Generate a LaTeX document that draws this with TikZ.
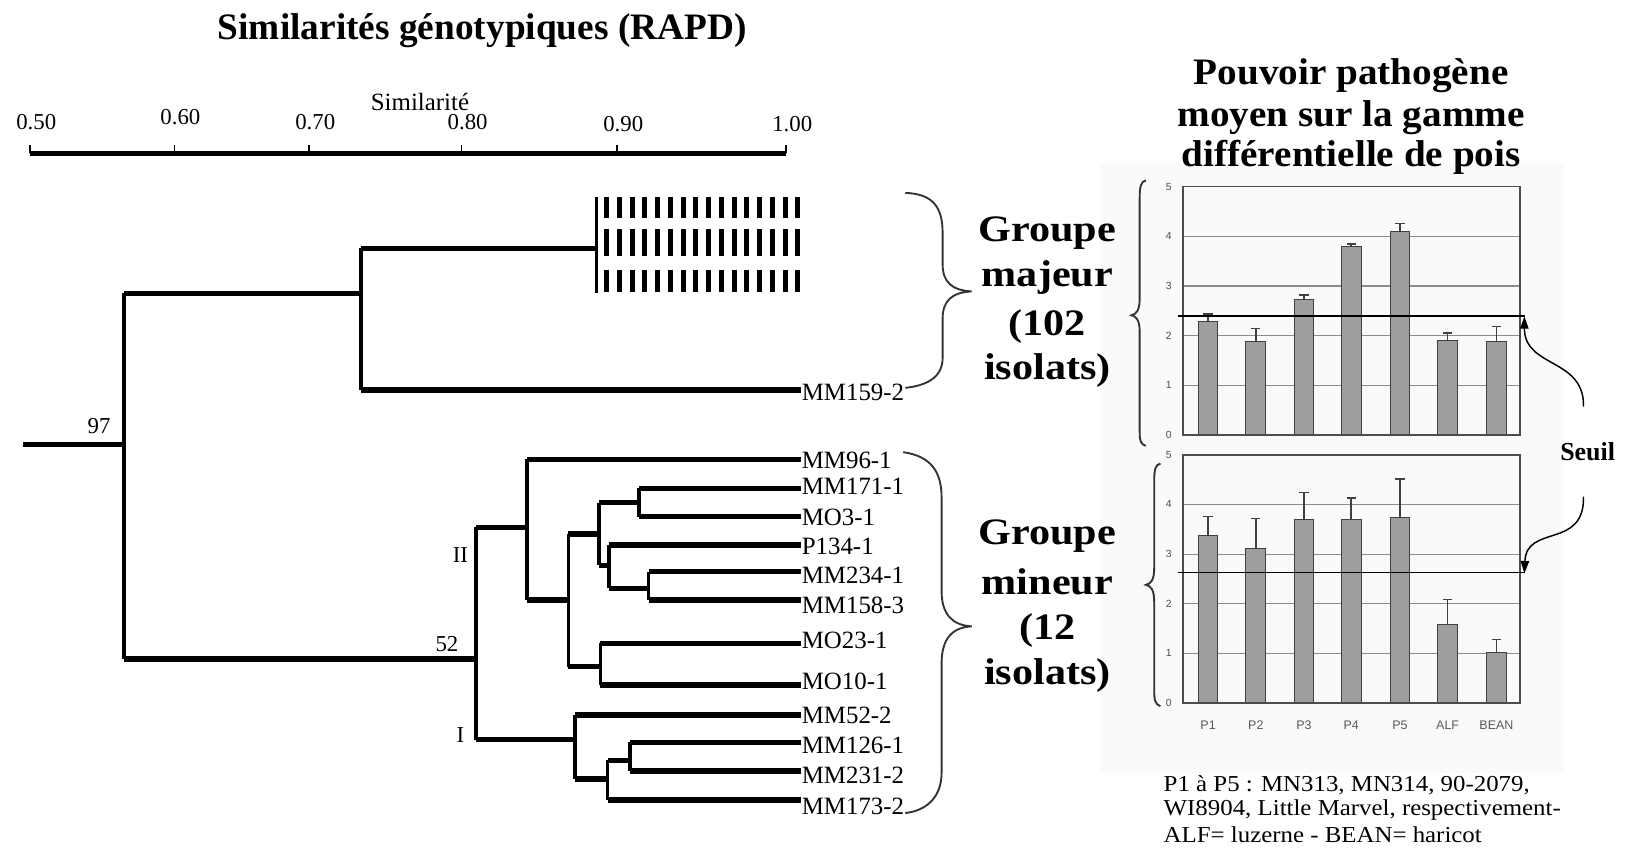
\documentclass[tikz,border=0pt]{standalone}
\usepackage{graphicx}
\usepackage{fontspec}
\setmainfont{Liberation Serif}
\setsansfont{Liberation Sans}
\usetikzlibrary{arrows.meta}
\newcommand\myfs[1]{\fontsize{#1}{#1}\selectfont}
\tikzset{
  hbr/.style={line width=5pt},
  vbr/.style={line width=3.4pt},
  leaf/.style={anchor=west,font=\myfs{24},inner sep=0pt},
  axnum/.style={font=\myfs{22},inner sep=0pt},
  tick/.style={line width=1.2pt},
  boot/.style={font=\myfs{22},inner sep=0pt},
  btitle/.style={font=\bfseries\myfs{36},inner sep=0pt},
  grp/.style={font=\bfseries\myfs{36},inner sep=0pt},
  brace/.style={line width=1.8pt,draw=black!80},
  dashbar/.style={line width=4.8pt},
  bar/.style={fill=black!38,draw=black!75,line width=1pt},
  err/.style={draw=black!75,line width=1.4pt},
  grid/.style={draw=black!45,line width=1pt},
  box/.style={draw=black!70,line width=1.6pt},
  ytick/.style={font=\sffamily\myfs{10},text=black!70,inner sep=0pt},
  xtick/.style={font=\sffamily\myfs{12},text=black!65,inner sep=0pt},
  seuilline/.style={line width=1.5pt},
  seuilarrow/.style={line width=1.4pt,-{Triangle[length=12pt,width=8pt]}},
  note/.style={anchor=west,font=\myfs{22},inner sep=0pt},
}
\begin{document}
\begin{tikzpicture}[x=1pt,y=-1pt]
\useasboundingbox (0,0) rectangle (1568,821.6);
\fill[white] (0,0) rectangle (1568,821.6);
% faint chart backdrop
\fill[black!2] (1061,157) rectangle (1508,745);

% ---------- titles
\node[btitle] (t1) at (465,30) {Similarités génotypiques (RAPD)};
\node[btitle] (t2a) at (1303,73) {\scalebox{1.05}[1]{Pouvoir pathogène}};
\node[btitle] (t2b) at (1303,113) {\scalebox{1.05}[1]{moyen sur la gamme}};
\node[btitle] (t2c) at (1303,152) {\scalebox{1.05}[1]{différentielle de pois}};

% ---------- similarity axis
\coordinate (a0) at (29,148);
\coordinate (a1) at (758,148);
\draw[line width=4.5pt] (a0) -- (a1);
\foreach \tx/\lab/\ly [count=\i] in {29/0.50/118, 168/0.60/113, 298/0.70/118, 445/0.80/118, 595/0.90/120, 758/1.00/120}{
  \draw[tick] (\tx,148) -- (\tx,140);
  \node[axnum] (ax\i) at (\tx+6,\ly) {\lab};
}
\node[axnum,font=\myfs{24}] (simlab) at (405,98) {Similarité};

% ---------- dendrogram coordinates
\coordinate (r0) at (22,429);
\coordinate (r1) at (119.5,429);
\coordinate (top) at (119.5,283);
\coordinate (bot) at (119.5,635.5);
\coordinate (n1) at (348,283);
\coordinate (n1a) at (348,239.5);
\coordinate (n1b) at (348,376);
\coordinate (blk) at (575,239.5);
\coordinate (m159) at (772,376);
\coordinate (n52) at (459,635.5);
\coordinate (nII) at (459,508.5);
\coordinate (nI) at (459,713.5);
\coordinate (c2) at (508,508.5);
\coordinate (c2a) at (508,443);
\coordinate (c2b) at (508,578.6);
\coordinate (d1) at (548,578.6);
\coordinate (d1a) at (548,515);
\coordinate (d1b) at (548,643);
\coordinate (e1) at (577.5,515);
\coordinate (e1a) at (577.5,484.7);
\coordinate (e1b) at (577.5,545);
\coordinate (f1) at (616,484.7);
\coordinate (f2) at (587.5,545);
\coordinate (g2) at (625.4,567.4);
\coordinate (h1) at (579,643);
\coordinate (c1) at (554.6,713.5);
\coordinate (k1) at (586,751.2);
\coordinate (k2) at (607.7,733);

% horizontals
\draw[hbr] (r0) -- (r1);
\draw[hbr] (top) -- (n1);
\draw[hbr] (n1a) -- (blk);
\draw[hbr] (n1b) -- (m159);
\draw[hbr] (bot) -- (n52);
\draw[hbr] (nII) -- (c2);
\draw[hbr] (nI) -- (c1);
\draw[hbr] (c2b) -- (d1);
\draw[hbr] (d1a) -- (e1);
\draw[hbr] (e1a) -- (f1);
\draw[hbr] (e1b) -- (f2);
\draw[hbr] (587.5,567.4) -- (g2);
\draw[hbr] (d1b) -- (h1);
\draw[hbr] (554.6,751.2) -- (k1);
\draw[hbr] (586,733) -- (k2);
% verticals
\draw[vbr] (top) -- (bot);
\draw[vbr] (n1a) -- (n1b);
\draw[vbr] (nII) -- (nI);
\draw[vbr] (c2a) -- (c2b);
\draw[vbr] (d1a) -- (d1b);
\draw[vbr] (e1a) -- (e1b);
\draw[vbr] (616,470.9) -- (616,498.2);
\draw[vbr] (587.5,525.6) -- (587.5,567.4);
\draw[vbr] (625.4,551.3) -- (625.4,578.6);
\draw[vbr] (579,620.4) -- (579,660.6);
\draw[vbr] (554.6,689.5) -- (554.6,751.2);
\draw[vbr] (586,733) -- (586,771.5);
\draw[vbr] (607.7,716) -- (607.7,743.5);
\draw[vbr] (575,189.6) -- (575,282.6);

% collapsed clade (dashed block)
\foreach \r/\ya/\yb in {1/189.5/210.5, 2/221/247, 3/260/282}{
  \foreach \k in {0,...,15}{
    \draw[dashbar] ({585+\k*12.3},\ya) -- ({585+\k*12.3},\yb);
  }
}

% leaves
\foreach \ly/\x/\ty/\name [count=\i] in {
  443/508/443.5/MM96-1,
  470.9/616/469/MM171-1,
  498.2/616/499/MO3-1,
  525.6/587.5/527/P134-1,
  551.3/625.4/554.5/MM234-1,
  578.6/625.4/584/MM158-3,
  620.4/579/618/MO23-1,
  660.6/579/657/MO10-1,
  689.5/554.6/690/MM52-2,
  716/607.7/718.5/MM126-1,
  743.5/607.7/747.5/MM231-2,
  771.5/586/778/MM173-2}{
  \draw[hbr] (\x,\ly) -- (772,\ly);
  \node[leaf] (leaf\i) at (773,\ty) {\name};
}
\node[leaf] (leaf0) at (773,378) {MM159-2};

% bootstrap / cluster labels
\node[boot] (b97) at (95.5,411) {97};
\node[boot] (b52) at (431,621) {52};
\node[boot] (lII) at (444,535) {II};
\node[boot] (lI) at (444,709) {I};

% ---------- braces (right-facing)
\draw[brace] (873,186) .. controls (900,187) and (909,200) .. (909,225) -- (909,255)
  .. controls (909,272) and (918,280) .. (937,281)
  .. controls (918,282) and (909,290) .. (909,307) -- (909,345)
  .. controls (909,365) and (892,372) .. (873,374);
\draw[brace] (871,436) .. controls (898,440) and (908,455) .. (908,480) -- (908,570)
  .. controls (908,592) and (918,603) .. (937,604)
  .. controls (918,605) and (908,616) .. (908,640) -- (908,745)
  .. controls (908,770) and (892,782) .. (873,784);

% group labels
\node[grp] (gM1) at (1010,225) {\scalebox{1.13}[1]{Groupe}};
\node[grp] (gM2) at (1010,268) {\scalebox{1.13}[1]{majeur}};
\node[grp] (gM3) at (1010,315) {\scalebox{1.13}[1]{(102}};
\node[grp] (gM4) at (1010,357) {\scalebox{1.13}[1]{isolats)}};
\node[grp] (gm1) at (1010,517) {\scalebox{1.13}[1]{Groupe}};
\node[grp] (gm2) at (1010,561) {\scalebox{1.13}[1]{mineur}};
\node[grp] (gm3) at (1010,608) {\scalebox{1.13}[1]{(12}};
\node[grp] (gm4) at (1010,651) {\scalebox{1.13}[1]{isolats)}};

% ---------- braces (left-facing) for charts
\draw[brace] (1105,174) .. controls (1100,175) and (1099,180) .. (1099,192) -- (1099,288)
  .. controls (1099,299) and (1096,303) .. (1091,304)
  .. controls (1096,305) and (1099,309) .. (1099,320) -- (1099,416)
  .. controls (1099,426) and (1100,428) .. (1105,430);
\draw[brace] (1119,447) .. controls (1114,448) and (1113,453) .. (1113,465) -- (1113,548)
  .. controls (1113,559) and (1110,563) .. (1105,564)
  .. controls (1110,565) and (1113,569) .. (1113,580) -- (1113,665)
  .. controls (1113,676) and (1114,679) .. (1119,681);

% ---------- top chart
\foreach \v in {1,2,3,4}{ \draw[grid] (1141,{419.5-\v*47.9}) -- (1465.6,{419.5-\v*47.9}); }
\foreach \x/\v/\e in {1165/2.29/2.44, 1211/1.88/2.15, 1257.5/2.72/2.82, 1303/3.79/3.85, 1350/4.09/4.26, 1396/1.91/2.05, 1443/1.88/2.18}{
  \draw[err] (\x,{419.5-\v*47.9}) -- (\x,{419.5-\e*47.9}) ++(-4.5,0) -- ++(9,0);
  \draw[bar] ({\x-9.5},419.5) rectangle ({\x+9.5},{419.5-\v*47.9});
}
\draw[box] (1141,180) rectangle (1465.6,419.5);
\foreach \v in {0,...,5}{ \node[ytick] (ty\v) at (1127,{419.5-\v*47.9}) {\v}; }
\coordinate (s1a) at (1135.5,304.5);
\coordinate (s1b) at (1471,304.5);
\draw[seuilline] (s1a) -- (s1b);

% ---------- bottom chart
\foreach \v in {1,2,3,4}{ \draw[grid] (1141,{678-\v*47.9}) -- (1465.6,{678-\v*47.9}); }
\foreach \x/\v/\e in {1165/3.37/3.76, 1211/3.12/3.72, 1257.5/3.70/4.24, 1303/3.70/4.13, 1350/3.74/4.51, 1396/1.59/2.08, 1443/1.01/1.28}{
  \draw[err] (\x,{678-\v*47.9}) -- (\x,{678-\e*47.9}) ++(-4.5,0) -- ++(9,0);
  \draw[bar] ({\x-9.5},678) rectangle ({\x+9.5},{678-\v*47.9});
}
\draw[box] (1141,438.5) rectangle (1465.6,678);
\foreach \v in {0,...,5}{ \node[ytick] (by\v) at (1127,{678-\v*47.9}) {\v}; }
\foreach \x/\lab [count=\i] in {1165/P1, 1211/P2, 1257.5/P3, 1303/P4, 1350/P5, 1396/ALF, 1443/BEAN}{
  \node[xtick] (xl\i) at (\x,699) {\lab};
}
\coordinate (s2a) at (1135.5,552);
\coordinate (s2b) at (1471,552);
\draw[seuilline] (s2a) -- (s2b);

% ---------- Seuil
\node[font=\bfseries\myfs{25},inner sep=0pt] (seuil) at (1531,436) {Seuil};
\coordinate (sa1) at (1527,392);
\coordinate (sa2) at (1527,479);
\draw[seuilarrow] (sa1) .. controls (1528,345) and (1470,355) .. (1470,305);
\draw[seuilarrow] (sa2) .. controls (1528,530) and (1472,505) .. (1470,553);

% ---------- footnote
\node[note] (n1l) at (1122,757) {\scalebox{1.09}[1]{P1 à P5 : MN313, MN314, 90-2079,}};
\node[note] (n2l) at (1122,781) {\scalebox{1.09}[1]{WI8904, Little Marvel, respectivement-}};
\node[note] (n3l) at (1122,805) {\scalebox{1.09}[1]{ALF= luzerne - BEAN= haricot}};
\end{tikzpicture}
\end{document}
